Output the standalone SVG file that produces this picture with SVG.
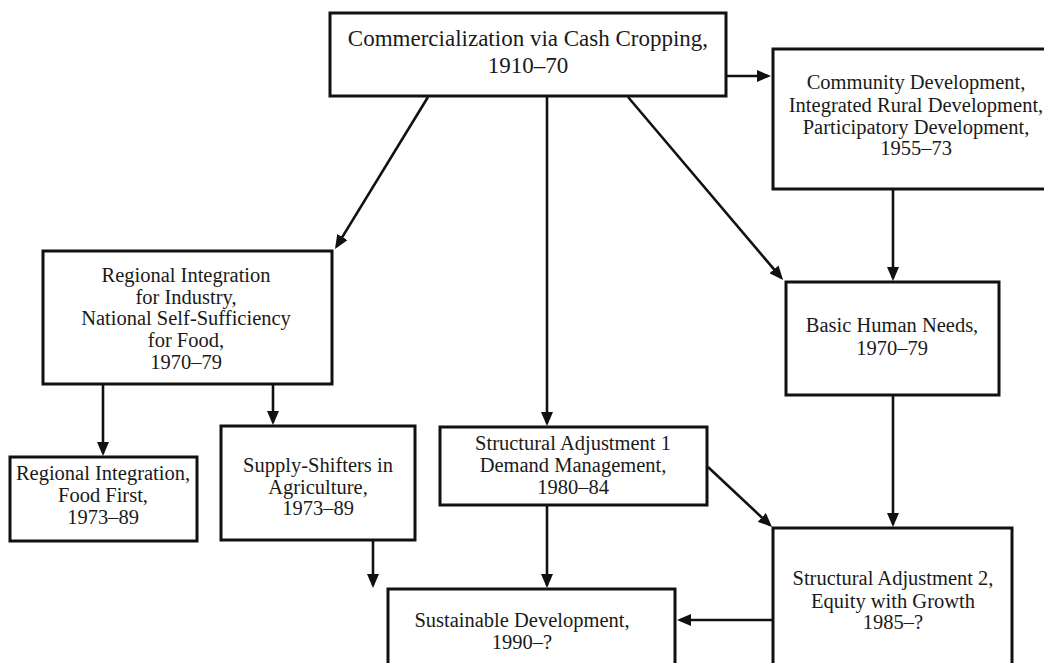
<svg xmlns="http://www.w3.org/2000/svg" width="1044" height="663" viewBox="0 0 1044 663">
<style>
.box{fill:#fff;stroke:#111;stroke-width:3}
.t{font-family:"Liberation Serif","Times New Roman",serif;font-size:20.5px;fill:#1a1a1a;text-anchor:middle}
.big{font-size:23px}
.c{stroke:#111;stroke-width:2.6;fill:none;marker-end:url(#ah)}
</style>
<defs>
<marker id="ah" viewBox="0 0 14 12" refX="11" refY="6" markerWidth="14" markerHeight="12" markerUnits="userSpaceOnUse" orient="auto">
<path d="M0,0 L14,6 L0,12 z" fill="#111"/>
</marker>
</defs>
<rect width="1044" height="663" fill="#fff"/>
<g id="connectors">
<line class="c" x1="428" y1="97" x2="336.6" y2="246.4"/>
<line class="c" x1="547" y1="97" x2="547" y2="423"/>
<line class="c" x1="628" y1="97" x2="781.1" y2="277.7"/>
<line class="c" x1="726" y1="76" x2="768" y2="76"/>
<line class="c" x1="893" y1="190" x2="893" y2="278"/>
<line class="c" x1="103" y1="385" x2="103" y2="453"/>
<line class="c" x1="273" y1="385" x2="273" y2="422"/>
<line class="c" x1="893" y1="396" x2="893" y2="524"/>
<line class="c" x1="708" y1="467" x2="769.8" y2="524.9"/>
<line class="c" x1="547" y1="506" x2="547" y2="585"/>
<line class="c" x1="373" y1="541" x2="373" y2="585"/>
<line class="c" x1="772" y1="620" x2="680" y2="620"/>
</g>
<g id="n1">
<rect class="box" x="330" y="13" width="396" height="83"/>
<text class="t big" x="528" y="46">Commercialization via Cash Cropping,</text>
<text class="t big" x="528" y="73">1910–70</text>
</g>
<g id="n2">
<rect class="box" x="773" y="49" width="276" height="140"/>
<text class="t" x="916" y="89">Community Development,</text>
<text class="t" x="916" y="112">Integrated Rural Development,</text>
<text class="t" x="916" y="134">Participatory Development,</text>
<text class="t" x="916" y="155">1955–73</text>
</g>
<g id="n3">
<rect class="box" x="43" y="251" width="289" height="133"/>
<text class="t" x="186" y="282">Regional Integration</text>
<text class="t" x="186" y="304">for Industry,</text>
<text class="t" x="186" y="325">National Self-Sufficiency</text>
<text class="t" x="186" y="347">for Food,</text>
<text class="t" x="186" y="369">1970–79</text>
</g>
<g id="n4">
<rect class="box" x="10" y="457" width="187" height="84"/>
<text class="t" x="103" y="480">Regional Integration,</text>
<text class="t" x="103" y="502">Food First,</text>
<text class="t" x="103" y="524">1973–89</text>
</g>
<g id="n5">
<rect class="box" x="221" y="426" width="194" height="114"/>
<text class="t" x="318" y="472">Supply-Shifters in</text>
<text class="t" x="318" y="494">Agriculture,</text>
<text class="t" x="318" y="515">1973–89</text>
</g>
<g id="n6">
<rect class="box" x="440" y="427" width="267" height="78"/>
<text class="t" x="573" y="450">Structural Adjustment 1</text>
<text class="t" x="573" y="472">Demand Management,</text>
<text class="t" x="573" y="494">1980–84</text>
</g>
<g id="n7">
<rect class="box" x="388" y="589" width="287" height="80"/>
<text class="t" x="522" y="627">Sustainable Development,</text>
<text class="t" x="522" y="649">1990–?</text>
</g>
<g id="n8">
<rect class="box" x="773" y="528" width="239" height="140"/>
<text class="t" x="893" y="585">Structural Adjustment 2,</text>
<text class="t" x="893" y="608">Equity with Growth</text>
<text class="t" x="893" y="629">1985–?</text>
</g>
<g id="n9">
<rect class="box" x="786" y="282" width="213" height="113"/>
<text class="t" x="892" y="332">Basic Human Needs,</text>
<text class="t" x="892" y="355">1970–79</text>
</g>
</svg>
